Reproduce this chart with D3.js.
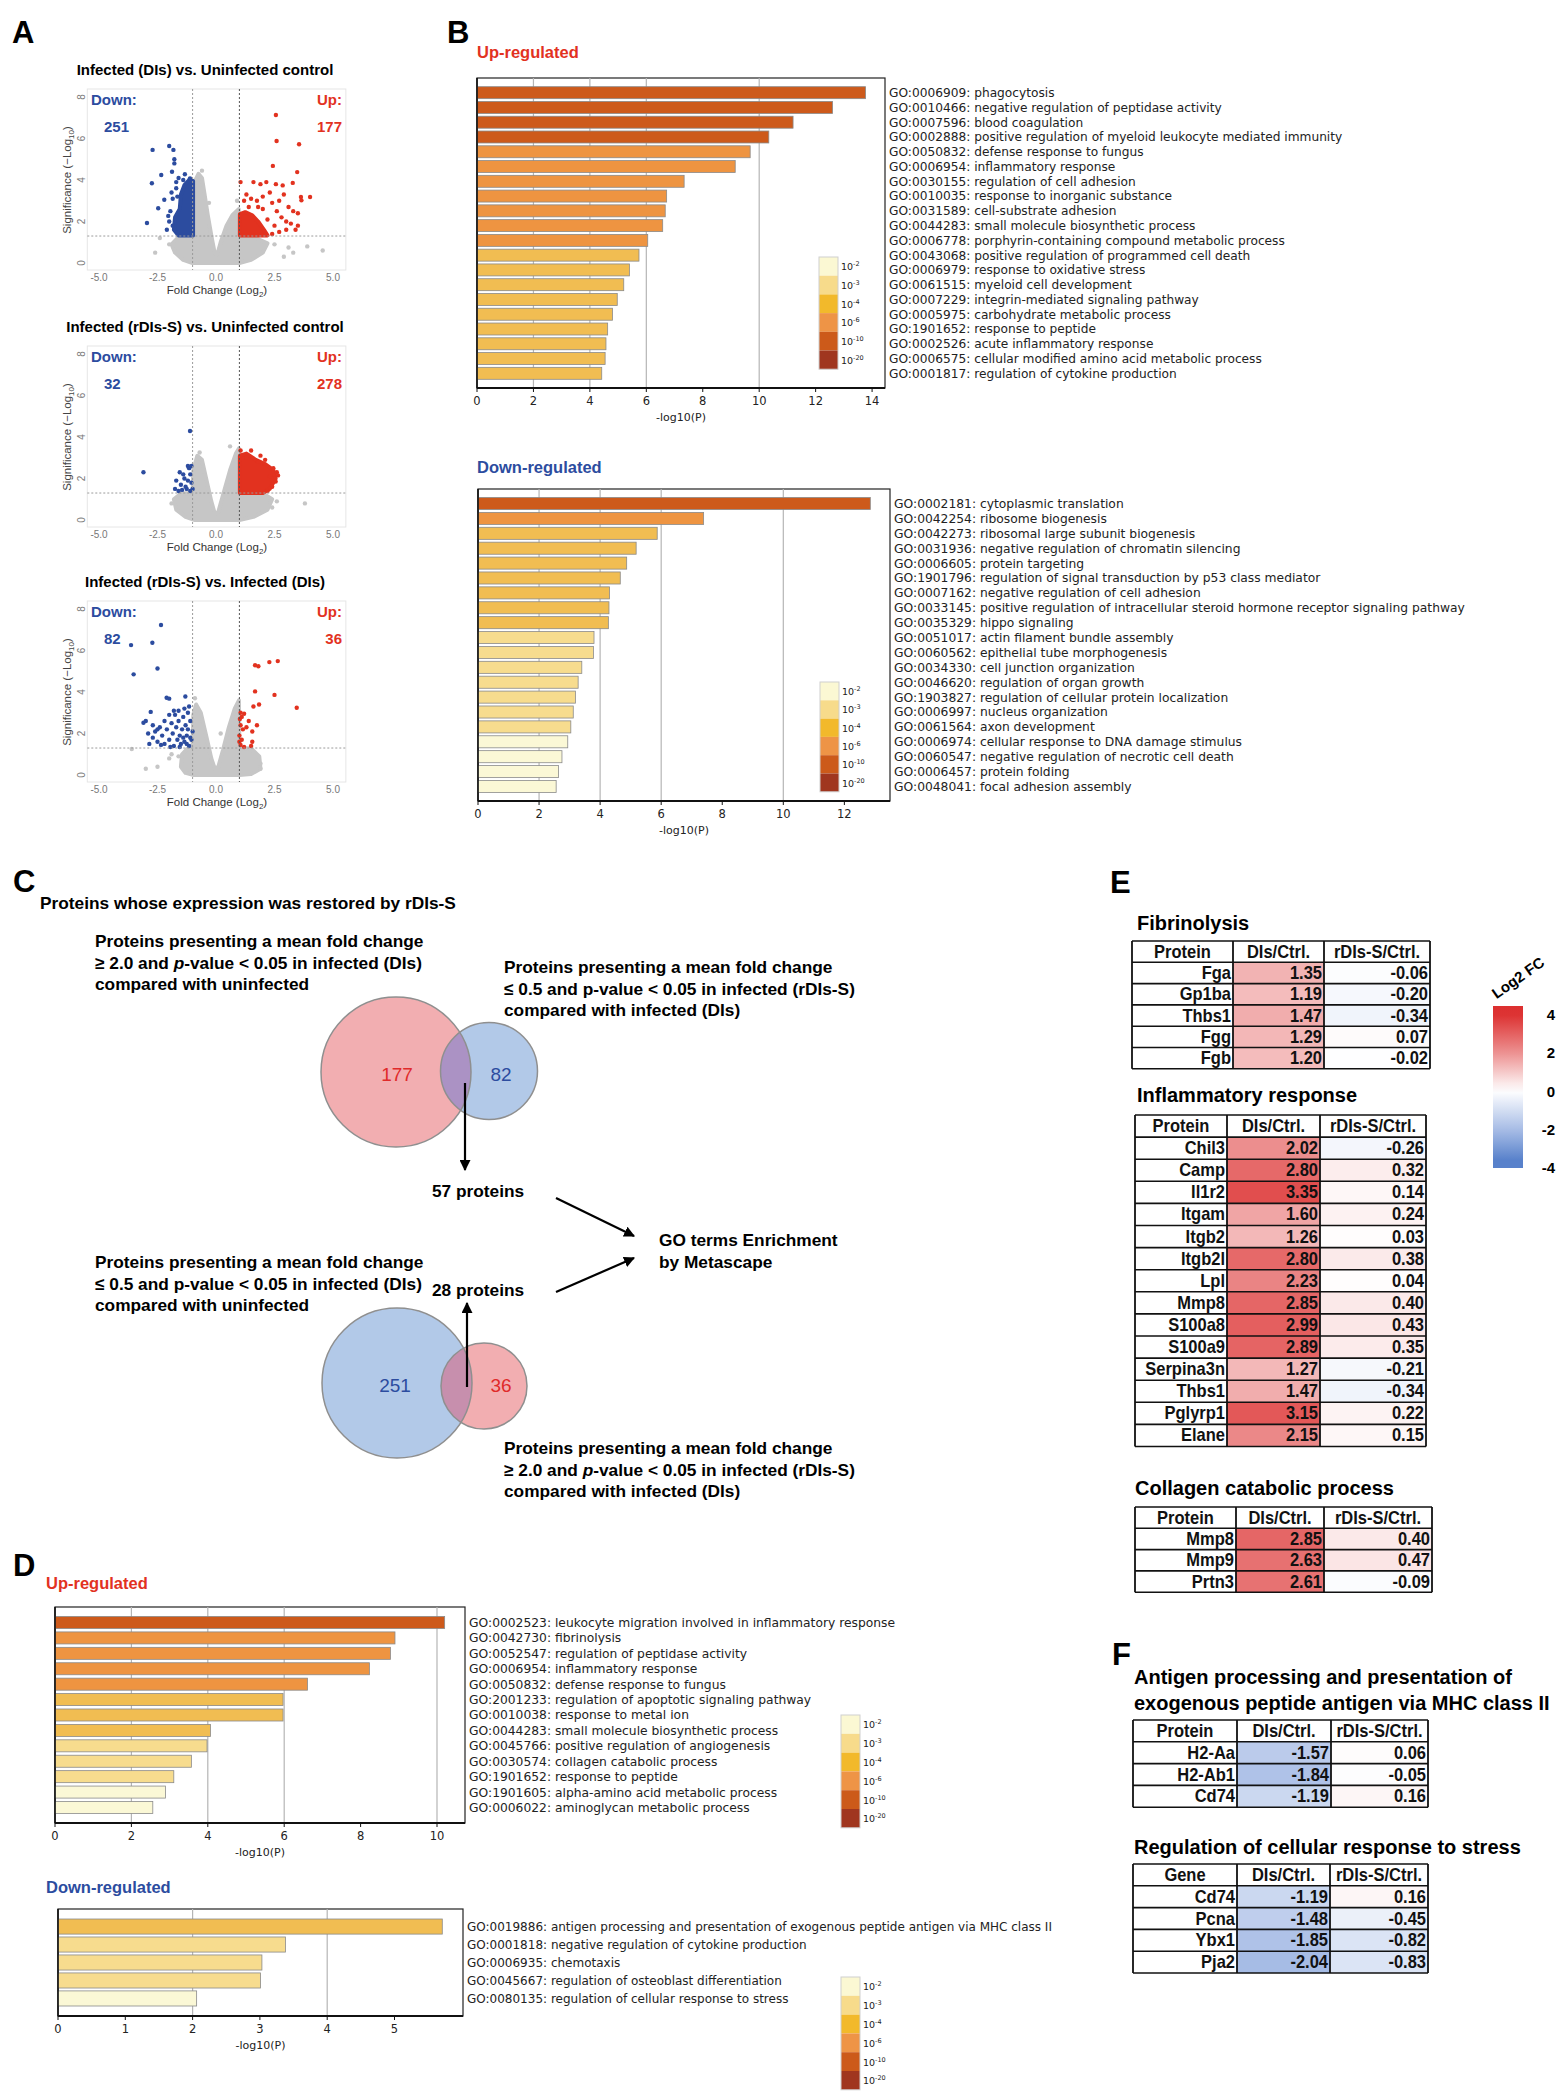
<!DOCTYPE html>
<html>
<head>
<meta charset="utf-8">
<script src="https://cdn.jsdelivr.net/npm/d3@7"></script>
<style>
  body { margin: 0; background: #fff; }
  svg { display: block; }
</style>
</head>
<body>
<svg id="fig" width="1562" height="2096"></svg>
<script>
// ---------------- Panel A: volcano plots (log2 FC, -log10 p) ----------------
const volcTitles = ['Infected (DIs) vs. Uninfected control',
                    'Infected (rDIs-S) vs. Uninfected control',
                    'Infected (rDIs-S) vs. Infected (DIs)'];
const volcDown = [251, 32, 82];
const volcUp   = [177, 278, 36];

// dense regions are outlined, sparse points listed one by one
const grayCloud1 = [[-1.0,0],[-1.4,0.15],[-1.75,0.5],[-1.9,0.9],[-1.6,1.25],[-1.0,1.3],[-0.97,3.0],[-0.92,3.9],[-0.75,4.3],[-0.6,4.1],[-0.5,3.4],[-0.35,2.3],[-0.18,1.2],[-0.05,0.45],[0.05,0.4],[0.2,1.0],[0.45,1.8],[0.7,2.3],[0.97,2.6],[1.0,1.3],[1.6,1.25],[2.2,0.95],[2.0,0.5],[1.5,0.15],[1.0,0]];
const grayDots1  = [[4.56,0.6],[3.9,0.8],[3.3,0.5],[2.9,0.3],[3.1,0.75],[2.5,0.9],[-2.4,1.2],[-2.0,0.9],[-2.6,0.5],[-0.6,4.45],[0.9,3.0],[-0.3,2.9]];
const downCloud1 = [[-0.98,1.33],[-0.98,3.95],[-1.15,4.0],[-1.35,3.75],[-1.5,3.3],[-1.55,2.6],[-1.75,2.2],[-1.8,1.6],[-1.6,1.33]];
const downDots1  = [[-2.95,1.93],[-2.71,5.45],[-2.74,3.84],[-2.47,2.64],[-2.34,4.24],[-2.21,3.05],[-2.04,2.27],[-2.0,5.64],[-1.82,5.45],[-1.78,5.0],[-1.78,4.8],[-1.88,4.4],[-1.33,4.28],[-1.11,4.08],[-1.95,2.5],[-1.9,3.4],[-1.7,3.6],[-1.6,4.1],[-1.4,4.0],[-2.1,1.6],[-1.85,1.8],[-1.7,3.9],[-1.65,3.2],[-1.85,3.1],[-2.0,2.0]];
const upCloud1   = [[1.02,1.33],[1.02,2.35],[1.25,2.45],[1.55,2.3],[1.8,2.0],[2.05,1.6],[2.2,1.33]];
const upDots1    = [[2.56,7.13],[2.59,5.88],[3.55,5.72],[2.43,4.68],[3.47,4.38],[1.05,3.9],[1.6,3.9],[1.9,3.8],[2.15,3.9],[2.56,3.8],[2.85,3.74],[3.28,3.86],[3.63,3.18],[4.02,3.18],[3.65,3.02],[1.3,3.3],[1.5,3.1],[1.2,3.0],[1.75,3.0],[2.0,3.2],[2.3,3.4],[2.4,2.9],[2.7,3.0],[2.9,3.3],[3.1,2.7],[3.3,2.5],[3.5,2.4],[2.6,2.5],[2.8,2.2],[3.0,2.0],[3.2,1.9],[3.4,1.6],[2.5,1.8],[2.2,2.1],[2.0,2.6],[1.8,2.7],[1.4,2.7],[2.7,1.5],[3.0,1.6],[2.4,1.4],[3.5,1.8]];

const grayCloud2 = [[-0.9,0],[-1.3,0.15],[-1.7,0.5],[-1.8,1.0],[-1.5,1.28],[-1.0,1.3],[-0.97,2.4],[-0.8,3.1],[-0.6,2.9],[-0.4,1.9],[-0.2,0.9],[-0.05,0.3],[0.1,0.4],[0.3,1.2],[0.6,2.4],[0.85,3.2],[0.98,3.45],[1.0,1.3],[2.0,1.28],[2.4,1.0],[2.2,0.5],[1.6,0.15],[1.0,0]];
const grayDots2  = [[3.8,0.8],[2.6,0.9],[-1.9,0.8],[0.6,3.55],[-0.7,3.25],[2.4,0.6]];
const downCloud2 = [];
const downDots2  = [[-1.11,4.29],[-3.1,2.3],[-1.2,2.6],[-1.1,2.2],[-1.35,2.0],[-1.5,1.7],[-1.7,1.9],[-1.6,1.4],[-1.25,1.5],[-1.1,1.4],[-1.4,2.2],[-1.05,1.8],[-1.3,1.6],[-1.75,1.5],[-1.15,2.5],[-1.45,1.45],[-1.0,1.5],[-1.2,1.9],[-1.55,2.3],[-1.05,2.6]];
const upCloud2   = [[1.02,1.3],[1.02,3.1],[1.3,3.2],[1.7,2.9],[2.1,2.7],[2.45,2.4],[2.55,2.0],[2.3,1.5],[2.0,1.3]];
const upDots2    = [[1.05,3.35],[1.5,3.35],[1.3,3.0],[1.9,3.1],[2.1,2.9],[2.45,2.5],[2.6,2.3],[2.55,1.85],[2.4,1.6],[2.2,1.4],[1.8,2.8],[2.3,2.1],[2.65,2.15]];

const grayCloud3 = [[-0.95,0],[-1.3,0.1],[-1.5,0.4],[-1.45,1.0],[-1.2,1.3],[-1.0,1.3],[-0.97,2.9],[-0.85,3.4],[-0.65,3.0],[-0.4,1.8],[-0.2,0.8],[-0.05,0.3],[0.1,0.4],[0.3,1.2],[0.55,2.3],[0.8,3.2],[0.98,3.6],[1.0,1.3],[1.5,1.28],[1.85,0.9],[1.9,0.3],[1.5,0.05],[1.0,0]];
const grayDots3  = [[-3.6,1.25],[-3.0,0.3],[-2.5,0.4],[-2.0,0.8],[1.9,0.3],[1.9,0.55],[-1.9,1.0],[-1.6,0.9],[-0.9,3.7],[0.2,2.0]];
const downCloud3 = [];
const downDots3  = [[-2.35,7.23],[-3.63,6.26],[-2.72,6.37],[-2.5,5.13],[-3.52,4.85],[-2.11,3.72],[-2.0,3.68],[-1.31,3.78],[-2.79,3.04],[-3.1,2.52],[-2.9,2.0],[-2.7,1.8],[-2.6,2.1],[-2.5,1.6],[-2.4,2.3],[-2.3,1.9],[-2.2,1.5],[-2.1,2.2],[-2.0,1.7],[-1.9,2.5],[-1.85,2.0],[-1.8,1.4],[-1.75,2.9],[-1.7,2.3],[-1.65,1.7],[-1.6,2.6],[-1.55,1.9],[-1.5,1.5],[-1.45,2.2],[-1.4,2.8],[-1.35,1.6],[-1.3,2.4],[-1.25,1.9],[-1.2,3.0],[-1.15,1.4],[-1.1,2.6],[-1.05,1.7],[-1.0,2.1],[-1.2,2.2],[-1.4,1.8],[-1.6,3.1],[-1.8,3.1],[-2.0,2.9],[-2.2,2.6],[-2.5,2.2],[-2.7,2.4],[-2.35,1.45],[-1.95,1.35],[-1.55,1.35],[-1.25,1.5],[-1.1,1.8],[-1.35,3.2],[-1.15,3.3],[-3.0,2.6],[-2.85,1.5]];
const upCloud3   = [];
const upDots3    = [[1.67,5.29],[1.81,5.24],[2.28,5.44],[2.64,5.49],[1.67,4.03],[2.5,3.86],[3.45,3.24],[1.6,3.3],[1.84,3.4],[1.05,3.0],[1.1,2.8],[1.2,2.95],[1.05,2.4],[1.15,2.2],[1.3,2.3],[1.0,1.9],[1.1,1.7],[1.05,1.45],[1.2,1.35],[1.5,1.4],[1.55,1.6],[1.75,2.4],[1.55,2.1],[1.4,2.6],[1.0,1.6],[1.02,2.7]];

const volcData = [
  { gray: grayCloud1, grayPts: grayDots1, down: downCloud1, downPts: downDots1, up: upCloud1, upPts: upDots1 },
  { gray: grayCloud2, grayPts: grayDots2, down: downCloud2, downPts: downDots2, up: upCloud2, upPts: upDots2 },
  { gray: grayCloud3, grayPts: grayDots3, down: downCloud3, downPts: downDots3, up: upCloud3, upPts: upDots3 }
];
const volcXTicks = [-5, -2.5, 0, 2.5, 5];
const volcYTicks = [0, 2, 4, 6, 8];

// ---------------- Panels B / D: Metascape GO enrichment ----------------
const bUpTerms = ['GO:0006909: phagocytosis','GO:0010466: negative regulation of peptidase activity','GO:0007596: blood coagulation','GO:0002888: positive regulation of myeloid leukocyte mediated immunity','GO:0050832: defense response to fungus','GO:0006954: inflammatory response','GO:0030155: regulation of cell adhesion','GO:0010035: response to inorganic substance','GO:0031589: cell-substrate adhesion','GO:0044283: small molecule biosynthetic process','GO:0006778: porphyrin-containing compound metabolic process','GO:0043068: positive regulation of programmed cell death','GO:0006979: response to oxidative stress','GO:0061515: myeloid cell development','GO:0007229: integrin-mediated signaling pathway','GO:0005975: carbohydrate metabolic process','GO:1901652: response to peptide','GO:0002526: acute inflammatory response','GO:0006575: cellular modified amino acid metabolic process','GO:0001817: regulation of cytokine production'];
const bUpValues = [13.77, 12.6, 11.2, 10.34, 9.68, 9.15, 7.34, 6.72, 6.67, 6.58, 6.05, 5.74, 5.4, 5.2, 4.97, 4.8, 4.63, 4.57, 4.54, 4.42];

const bDownTerms = ['GO:0002181: cytoplasmic translation','GO:0042254: ribosome biogenesis','GO:0042273: ribosomal large subunit biogenesis','GO:0031936: negative regulation of chromatin silencing','GO:0006605: protein targeting','GO:1901796: regulation of signal transduction by p53 class mediator','GO:0007162: negative regulation of cell adhesion','GO:0033145: positive regulation of intracellular steroid hormone receptor signaling pathway','GO:0035329: hippo signaling','GO:0051017: actin filament bundle assembly','GO:0060562: epithelial tube morphogenesis','GO:0034330: cell junction organization','GO:0046620: regulation of organ growth','GO:1903827: regulation of cellular protein localization','GO:0006997: nucleus organization','GO:0061564: axon development','GO:0006974: cellular response to DNA damage stimulus','GO:0060547: negative regulation of necrotic cell death','GO:0006457: protein folding','GO:0048041: focal adhesion assembly'];
const bDownValues = [12.85, 7.39, 5.87, 5.18, 4.87, 4.66, 4.31, 4.29, 4.27, 3.8, 3.78, 3.4, 3.28, 3.19, 3.12, 3.04, 2.94, 2.75, 2.64, 2.56];

const dUpTerms = ['GO:0002523: leukocyte migration involved in inflammatory response','GO:0042730: fibrinolysis','GO:0052547: regulation of peptidase activity','GO:0006954: inflammatory response','GO:0050832: defense response to fungus','GO:2001233: regulation of apoptotic signaling pathway','GO:0010038: response to metal ion','GO:0044283: small molecule biosynthetic process','GO:0045766: positive regulation of angiogenesis','GO:0030574: collagen catabolic process','GO:1901652: response to peptide','GO:1901605: alpha-amino acid metabolic process','GO:0006022: aminoglycan metabolic process'];
const dUpValues = [10.2, 8.9, 8.78, 8.23, 6.61, 5.97, 5.97, 4.07, 3.98, 3.57, 3.11, 2.89, 2.56];

const dDownTerms = ['GO:0019886: antigen processing and presentation of exogenous peptide antigen via MHC class II','GO:0001818: negative regulation of cytokine production','GO:0006935: chemotaxis','GO:0045667: regulation of osteoblast differentiation','GO:0080135: regulation of cellular response to stress'];
const dDownValues = [5.71, 3.38, 3.03, 3.01, 2.06];

const pLegendExp = ['-2', '-3', '-4', '-6', '-10', '-20'];

// ---------------- Panels E / F: log2 fold-change tables ----------------
const fibNames = ['Fga', 'Gp1ba', 'Thbs1', 'Fgg', 'Fgb'];
const fibDIs   = [1.35, 1.19, 1.47, 1.29, 1.20];
const fibRDIs  = [-0.06, -0.20, -0.34, 0.07, -0.02];

const inflNames = ['Chil3','Camp','Il1r2','Itgam','Itgb2','Itgb2l','Lpl','Mmp8','S100a8','S100a9','Serpina3n','Thbs1','Pglyrp1','Elane'];
const inflDIs   = [2.02, 2.80, 3.35, 1.60, 1.26, 2.80, 2.23, 2.85, 2.99, 2.89, 1.27, 1.47, 3.15, 2.15];
const inflRDIs  = [-0.26, 0.32, 0.14, 0.24, 0.03, 0.38, 0.04, 0.40, 0.43, 0.35, -0.21, -0.34, 0.22, 0.15];

const collNames = ['Mmp8', 'Mmp9', 'Prtn3'];
const collDIs   = [2.85, 2.63, 2.61];
const collRDIs  = [0.40, 0.47, -0.09];

const mhcNames = ['H2-Aa', 'H2-Ab1', 'Cd74'];
const mhcDIs   = [-1.57, -1.84, -1.19];
const mhcRDIs  = [0.06, -0.05, 0.16];

const stressNames = ['Cd74', 'Pcna', 'Ybx1', 'Pja2'];
const stressDIs   = [-1.19, -1.48, -1.85, -2.04];
const stressRDIs  = [0.16, -0.45, -0.82, -0.83];

const fcTicks = [4, 2, 0, -2, -4];

// -------------------------------------------------------------------
const SANS = '"Liberation Sans", Arial, sans-serif';
const DV   = '"DejaVu Sans", sans-serif';
const RED  = '#e2321f';
const BLUE = '#2c4c9f';

const svg = d3.select('#fig');
svg.append('rect').attr('width', 1562).attr('height', 2096).attr('fill', '#fff');

// arrow marker
svg.append('defs').append('marker')
  .attr('id', 'arrow').attr('viewBox', '0 0 10 10')
  .attr('refX', 9).attr('refY', 5)
  .attr('markerWidth', 5).attr('markerHeight', 5)
  .attr('orient', 'auto-start-reverse')
  .append('path').attr('d', 'M0,0 L10,5 L0,10 z').attr('fill', '#000');

// ── Panel letters ──────────────────────────────────────────────────
[['A', 12, 43], ['B', 447, 43], ['C', 13, 892], ['D', 13, 1576], ['E', 1110, 893], ['F', 1112, 1665]]
  .forEach(([t, x, y]) => {
    svg.append('text').attr('x', x).attr('y', y)
      .attr('font-family', SANS).attr('font-weight', 'bold').attr('font-size', 31)
      .text(t);
  });

// ── A: volcano plots ──────────────────────────────────────────────
const volcTops = [89, 346, 601];

function drawVolcano(i) {
  const top = volcTops[i];
  const d = volcData[i];
  const g = svg.append('g');
  const x = d3.scaleLinear().domain([-5, 5]).range([99, 333]);
  const y = d3.scaleLinear().domain([0, 8]).range([top + 174, top + 8]);

  g.append('text')
    .attr('x', 205).attr('y', top - 14)
    .attr('text-anchor', 'middle')
    .attr('font-family', SANS).attr('font-weight', 'bold').attr('font-size', 15)
    .text(volcTitles[i]);

  g.append('rect')
    .attr('x', x(-5.5)).attr('y', top)
    .attr('width', x(5.55) - x(-5.5)).attr('height', 181)
    .attr('fill', 'none').attr('stroke', '#e6e6e6');

  const line = d3.line().x(p => x(p[0])).y(p => y(p[1])).curve(d3.curveLinearClosed);
  const cloud = (pts, color) => {
    if (!pts.length) return;
    g.append('path').attr('d', line(pts))
      .attr('fill', color).attr('stroke', color)
      .attr('stroke-width', 4).attr('stroke-linejoin', 'round');
  };
  const dots = (pts, color) => {
    g.selectAll(null).data(pts).join('circle')
      .attr('cx', p => x(p[0])).attr('cy', p => y(p[1]))
      .attr('r', 2.2).attr('fill', color);
  };

  cloud(d.gray, '#c6c6c6');
  dots(d.grayPts, '#c6c6c6');
  cloud(d.down, BLUE);
  dots(d.downPts, BLUE);
  cloud(d.up, RED);
  dots(d.upPts, RED);

  // threshold lines
  g.append('line').attr('x1', x(-1)).attr('x2', x(-1)).attr('y1', top).attr('y2', top + 181)
    .attr('stroke', '#9a9a9a').attr('stroke-dasharray', '2,2');
  g.append('line').attr('x1', x(1)).attr('x2', x(1)).attr('y1', top).attr('y2', top + 181)
    .attr('stroke', '#555').attr('stroke-dasharray', '2,2');
  g.append('line').attr('x1', x(-5.5)).attr('x2', x(5.55)).attr('y1', y(1.3)).attr('y2', y(1.3))
    .attr('stroke', '#9a9a9a').attr('stroke-dasharray', '2,2');

  // ticks
  g.selectAll(null).data(volcXTicks).join('text')
    .attr('x', v => x(v)).attr('y', top + 192)
    .attr('text-anchor', 'middle')
    .attr('font-family', SANS).attr('font-size', 10).attr('fill', '#777')
    .text(v => v.toFixed(1));
  g.selectAll(null).data(volcYTicks).join('text')
    .attr('transform', v => `translate(85,${y(v)}) rotate(-90)`)
    .attr('text-anchor', 'middle')
    .attr('font-family', SANS).attr('font-size', 10).attr('fill', '#777')
    .text(v => v);

  const xt = g.append('text')
    .attr('x', 217).attr('y', top + 205)
    .attr('text-anchor', 'middle')
    .attr('font-family', SANS).attr('font-size', 11.5).attr('fill', '#333');
  xt.append('tspan').text('Fold Change (Log');
  xt.append('tspan').attr('font-size', 8).attr('dy', 3).text('2');
  xt.append('tspan').attr('dy', -3).text(')');

  const yt = g.append('text')
    .attr('transform', `translate(71,${top + 91}) rotate(-90)`)
    .attr('text-anchor', 'middle')
    .attr('font-family', SANS).attr('font-size', 11.5).attr('fill', '#444');
  yt.append('tspan').text('Significance (\u2212Log');
  yt.append('tspan').attr('font-size', 8).attr('dy', 3).text('10');
  yt.append('tspan').attr('dy', -3).text(')');

  // counts
  const lab = (t, xx, yy, anchor, color) =>
    g.append('text').attr('x', xx).attr('y', yy).attr('text-anchor', anchor)
      .attr('font-family', SANS).attr('font-weight', 'bold').attr('font-size', 15)
      .attr('fill', color).text(t);
  lab('Down:', 91, top + 16, 'start', BLUE);
  lab(volcDown[i], 104, top + 43, 'start', BLUE);
  lab('Up:', 342, top + 16, 'end', RED);
  lab(volcUp[i], 342, top + 43, 'end', RED);
}
[0, 1, 2].forEach(drawVolcano);

// ── B / D: GO enrichment bar charts ───────────────────────────────
const legendColors = ['#fbf8d3', '#f7db8b', '#f2b92b', '#ee9446', '#cc5a1a', '#a0361f'];
const barColor = v => v >= 10 ? '#cd5a1b' : v >= 6 ? '#ee9441' : v >= 4 ? '#f1bd52' : v >= 3 ? '#f7dc8e' : '#fbf8d6';

function drawGO(cfg, terms, values) {
  const g = svg.append('g');
  const x = d3.scaleLinear().domain([0, 1]).range([cfg.left, cfg.left + cfg.unit]);
  const yb = d3.scaleBand().domain(d3.range(values.length))
    .range([cfg.top + cfg.pad, cfg.bottom - cfg.pad])
    .paddingInner(cfg.inner).paddingOuter(0);

  g.append('text')
    .attr('x', cfg.titleX).attr('y', cfg.titleY)
    .attr('font-family', SANS).attr('font-weight', 'bold').attr('font-size', 16.5)
    .attr('fill', cfg.titleColor).text(cfg.title);

  g.append('rect')
    .attr('x', cfg.left).attr('y', cfg.top)
    .attr('width', cfg.right - cfg.left).attr('height', cfg.bottom - cfg.top)
    .attr('fill', '#fff').attr('stroke', '#222').attr('stroke-width', 1.2);

  g.selectAll(null).data(cfg.grid).join('line')
    .attr('x1', v => x(v)).attr('x2', v => x(v))
    .attr('y1', cfg.top).attr('y2', cfg.bottom)
    .attr('stroke', '#b5b5b5').attr('stroke-width', 1.2);

  g.selectAll(null).data(values).join('rect')
    .attr('x', x(0)).attr('y', (v, i) => yb(i))
    .attr('width', v => x(v) - x(0)).attr('height', yb.bandwidth())
    .attr('fill', v => barColor(v))
    .attr('stroke', '#8a8a8a').attr('stroke-width', 0.8);

  g.append('line').attr('x1', cfg.left).attr('x2', cfg.right)
    .attr('y1', cfg.bottom).attr('y2', cfg.bottom)
    .attr('stroke', '#111').attr('stroke-width', 2.2);
  g.append('line').attr('x1', cfg.left).attr('x2', cfg.left)
    .attr('y1', cfg.top).attr('y2', cfg.bottom)
    .attr('stroke', '#111').attr('stroke-width', 1.6);

  const ticks = d3.range(0, cfg.tickMax + 0.001, cfg.tickStep);
  g.selectAll(null).data(ticks).join('line')
    .attr('x1', v => x(v)).attr('x2', v => x(v))
    .attr('y1', cfg.bottom).attr('y2', cfg.bottom + 4)
    .attr('stroke', '#111');
  g.selectAll(null).data(ticks).join('text')
    .attr('x', v => x(v)).attr('y', cfg.bottom + 17)
    .attr('text-anchor', 'middle')
    .attr('font-family', DV).attr('font-size', 11.5).attr('fill', '#222')
    .text(v => v);
  g.append('text')
    .attr('x', (cfg.left + cfg.right) / 2).attr('y', cfg.bottom + 33)
    .attr('text-anchor', 'middle')
    .attr('font-family', DV).attr('font-size', 11).attr('fill', '#222')
    .text('-log10(P)');

  g.selectAll(null).data(terms).join('text')
    .attr('x', cfg.right + 4).attr('y', (t, i) => yb(i) + yb.bandwidth() / 2)
    .attr('dy', '0.36em')
    .attr('font-family', DV).attr('font-size', cfg.labelSize).attr('fill', '#222')
    .text(t => t);

  // p-value legend
  const lg = g.append('g');
  lg.selectAll(null).data(pLegendExp).join('rect')
    .attr('x', cfg.legX).attr('y', (e, i) => cfg.legY + i * cfg.legH)
    .attr('width', 19).attr('height', cfg.legH)
    .attr('fill', (e, i) => legendColors[i]);
  lg.append('rect')
    .attr('x', cfg.legX).attr('y', cfg.legY)
    .attr('width', 19).attr('height', cfg.legH * 6)
    .attr('fill', 'none').attr('stroke', '#cfcfcf');
  const lt = lg.selectAll(null).data(pLegendExp).join('text')
    .attr('x', cfg.legX + 22).attr('y', (e, i) => cfg.legY + i * cfg.legH + cfg.legH / 2 + 4)
    .attr('font-family', DV).attr('font-size', 9.5).attr('fill', '#222');
  lt.append('tspan').text('10');
  lt.append('tspan').attr('font-size', 6.5).attr('dy', -4).text(e => e);
}

drawGO({ left: 477, right: 885, top: 78, bottom: 388, unit: 28.22, tickMax: 14, tickStep: 2,
         grid: [2, 4, 6, 10], pad: 8.7, inner: 0.19, legX: 819, legY: 257, legH: 18.7, labelSize: 12.2,
         title: 'Up-regulated', titleColor: RED, titleX: 477, titleY: 58 }, bUpTerms, bUpValues);
drawGO({ left: 478, right: 890, top: 489, bottom: 801, unit: 30.53, tickMax: 12, tickStep: 2,
         grid: [2, 4, 6, 10], pad: 8.5, inner: 0.19, legX: 820, legY: 682, legH: 18.3, labelSize: 12.3,
         title: 'Down-regulated', titleColor: BLUE, titleX: 477, titleY: 473 }, bDownTerms, bDownValues);
drawGO({ left: 55, right: 465, top: 1607, bottom: 1823, unit: 38.2, tickMax: 10, tickStep: 2,
         grid: [2, 4, 6, 10], pad: 9.5, inner: 0.22, legX: 841, legY: 1715, legH: 18.8, labelSize: 12.3,
         title: 'Up-regulated', titleColor: RED, titleX: 46, titleY: 1589 }, dUpTerms, dUpValues);
drawGO({ left: 58, right: 463, top: 1909, bottom: 2016, unit: 67.3, tickMax: 5, tickStep: 1,
         grid: [2, 4], pad: 10, inner: 0.16, legX: 841, legY: 1977, legH: 18.8, labelSize: 12,
         title: 'Down-regulated', titleColor: BLUE, titleX: 46, titleY: 1893 }, dDownTerms, dDownValues);

// ── C: Venn diagrams and flow ─────────────────────────────────────
function para(x, y, lines, lh) {
  lines.forEach((segs, li) => {
    const t = svg.append('text').attr('x', x).attr('y', y + li * lh)
      .attr('font-family', SANS).attr('font-weight', 'bold').attr('font-size', 17.3);
    segs.forEach(s => {
      const sp = t.append('tspan').text(s[0]);
      if (s[1]) sp.attr('font-style', 'italic');
    });
  });
}
para(40, 909, [[['Proteins whose expression was restored by rDIs-S']]], 0);
para(95, 947, [[['Proteins presenting a mean fold change']],
               [['\u2265 2.0 and '], ['p', 1], ['-value < 0.05 in infected (DIs)']],
               [['compared with uninfected']]], 21.5);
para(504, 973, [[['Proteins presenting a mean fold change']],
                [['\u2264 0.5 and p-value < 0.05 in infected (rDIs-S)']],
                [['compared with infected (DIs)']]], 21.5);
para(95, 1268, [[['Proteins presenting a mean fold change']],
                [['\u2264 0.5 and p-value < 0.05 in infected (DIs)']],
                [['compared with uninfected']]], 21.5);
para(504, 1454, [[['Proteins presenting a mean fold change']],
                 [['\u2265 2.0 and '], ['p', 1], ['-value < 0.05 in infected (rDIs-S)']],
                 [['compared with infected (DIs)']]], 21.5);
para(432, 1197, [[['57 proteins']]], 0);
para(432, 1296, [[['28 proteins']]], 0);
para(659, 1246, [[['GO terms Enrichment']], [['by Metascape']]], 22);

function venn(big, small, bigFill, smallFill, overlapFill, id) {
  const g = svg.append('g');
  g.append('clipPath').attr('id', id)
    .append('circle').attr('cx', small.cx).attr('cy', small.cy).attr('r', small.r);
  g.append('circle').attr('cx', big.cx).attr('cy', big.cy).attr('r', big.r).attr('fill', bigFill);
  g.append('circle').attr('cx', small.cx).attr('cy', small.cy).attr('r', small.r).attr('fill', smallFill);
  g.append('circle').attr('cx', big.cx).attr('cy', big.cy).attr('r', big.r)
    .attr('fill', overlapFill).attr('clip-path', `url(#${id})`);
  g.selectAll(null).data([big, small]).join('circle')
    .attr('cx', c => c.cx).attr('cy', c => c.cy).attr('r', c => c.r)
    .attr('fill', 'none').attr('stroke', '#8f8f8f').attr('stroke-width', 1.5);
}
venn({ cx: 396, cy: 1072, r: 75 }, { cx: 489, cy: 1071, r: 48.5 }, '#f2aeb1', '#b2c9e8', '#ab92c4', 'v1');
venn({ cx: 397, cy: 1383, r: 75 }, { cx: 484, cy: 1386, r: 43 }, '#b2c9e8', '#f2aeb1', '#c78fad', 'v2');

const vennNum = (t, x, y, c) => svg.append('text').attr('x', x).attr('y', y)
  .attr('text-anchor', 'middle').attr('font-family', SANS).attr('font-size', 19)
  .attr('fill', c).text(t);
vennNum('177', 397, 1081, '#e02a2a');
vennNum('82', 501, 1081, BLUE);
vennNum('251', 395, 1392, BLUE);
vennNum('36', 501, 1392, '#e02a2a');

const arrow = (x1, y1, x2, y2) => svg.append('line')
  .attr('x1', x1).attr('y1', y1).attr('x2', x2).attr('y2', y2)
  .attr('stroke', '#000').attr('stroke-width', 2.2).attr('marker-end', 'url(#arrow)');
arrow(465, 1083, 465, 1170);
arrow(556, 1198, 634, 1236);
arrow(556, 1292, 634, 1258);
arrow(467, 1387, 467, 1303);

// ── E / F: fold-change tables ─────────────────────────────────────
const fcColor = d3.scaleLinear().domain([-4, -2, 0, 2, 4])
  .range(['#4472c4', '#a8bde6', '#ffffff', '#ec8f8f', '#dc2f2f']);

const sectionTitle = (t, x, y) => svg.append('text').attr('x', x).attr('y', y)
  .attr('font-family', SANS).attr('font-weight', 'bold').attr('font-size', 20).text(t);

function drawTable(cols, top, rowH, header, names, dis, rdis) {
  const g = svg.append('g');
  const n = names.length + 1;
  const ry = d3.scaleLinear().domain([0, n]).range([top, top + n * rowH]);
  const cellText = (t, x, y, anchor) => g.append('text')
    .attr('transform', `translate(${x},${y}) scale(1,1.15)`)
    .attr('text-anchor', anchor)
    .attr('font-family', SANS).attr('font-weight', 'bold').attr('font-size', 16.5)
    .attr('fill', '#111').text(t);

  names.forEach((nm, i) => {
    g.append('rect').attr('x', cols[1]).attr('y', ry(i + 1))
      .attr('width', cols[2] - cols[1]).attr('height', rowH).attr('fill', fcColor(dis[i]));
    g.append('rect').attr('x', cols[2]).attr('y', ry(i + 1))
      .attr('width', cols[3] - cols[2]).attr('height', rowH).attr('fill', fcColor(rdis[i]));
  });
  // grid
  d3.range(n + 1).forEach(k => g.append('line')
    .attr('x1', cols[0]).attr('x2', cols[3]).attr('y1', ry(k)).attr('y2', ry(k))
    .attr('stroke', '#111').attr('stroke-width', 1.6));
  cols.forEach(c => g.append('line')
    .attr('x1', c).attr('x2', c).attr('y1', ry(0)).attr('y2', ry(n))
    .attr('stroke', '#111').attr('stroke-width', 1.8));

  header.forEach((h, j) => cellText(h, (cols[j] + cols[j + 1]) / 2, ry(0) + rowH / 2 + 6, 'middle'));
  names.forEach((nm, i) => {
    const yy = ry(i + 1) + rowH / 2 + 6;
    cellText(nm, cols[1] - 2, yy, 'end');
    cellText(dis[i].toFixed(2), cols[2] - 2, yy, 'end');
    cellText(rdis[i].toFixed(2), cols[3] - 2, yy, 'end');
  });
}

const hdrP = ['Protein', 'DIs/Ctrl.', 'rDIs-S/Ctrl.'];
const hdrG = ['Gene', 'DIs/Ctrl.', 'rDIs-S/Ctrl.'];

sectionTitle('Fibrinolysis', 1137, 930);
drawTable([1132, 1233, 1324, 1430], 941, 21.3, hdrP, fibNames, fibDIs, fibRDIs);
sectionTitle('Inflammatory response', 1137, 1102);
drawTable([1135, 1227, 1320, 1426], 1115, 22.1, hdrP, inflNames, inflDIs, inflRDIs);
sectionTitle('Collagen catabolic process', 1135, 1495);
drawTable([1135, 1236, 1324, 1432], 1507, 21.3, hdrP, collNames, collDIs, collRDIs);

sectionTitle('Antigen processing and presentation of', 1134, 1684);
sectionTitle('exogenous peptide antigen via MHC class II', 1134, 1710);
drawTable([1133, 1237, 1331, 1428], 1720, 21.8, hdrP, mhcNames, mhcDIs, mhcRDIs);
sectionTitle('Regulation of cellular response to stress', 1134, 1854);
drawTable([1133, 1237, 1330, 1428], 1864, 21.8, hdrG, stressNames, stressDIs, stressRDIs);

// colour bar
const cb = d3.scaleLinear().domain([-4, 4]).range([1167, 1014]);
const grad = svg.select('defs').append('linearGradient')
  .attr('id', 'fcgrad').attr('x1', 0).attr('x2', 0).attr('y1', 0).attr('y2', 1);
d3.range(4.4, -4.1, -0.5).forEach(v => grad.append('stop')
  .attr('offset', (4.4 - v) / 8.4).attr('stop-color', fcColor(Math.max(-4, Math.min(4, v)))));
svg.append('rect').attr('x', 1493).attr('y', 1006).attr('width', 30).attr('height', 162)
  .attr('fill', 'url(#fcgrad)');
svg.selectAll(null).data(fcTicks).join('text')
  .attr('x', 1555).attr('y', v => cb(v) + 6)
  .attr('text-anchor', 'end')
  .attr('font-family', SANS).attr('font-weight', 'bold').attr('font-size', 15)
  .text(v => v);
svg.append('text')
  .attr('transform', 'translate(1521,982) rotate(-35)')
  .attr('text-anchor', 'middle')
  .attr('font-family', SANS).attr('font-weight', 'bold').attr('font-size', 15)
  .text('Log2 FC');
</script>
</body>
</html>
